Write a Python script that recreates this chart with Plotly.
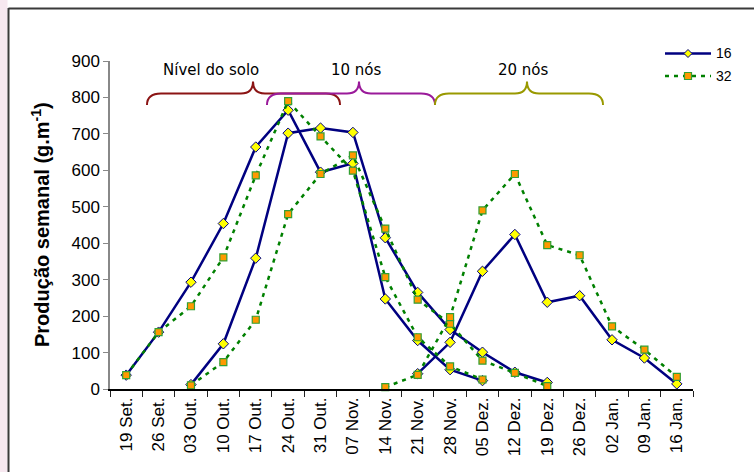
import plotly.graph_objects as go

categories = ["19 Set.", "26 Set.", "03 Out.", "10 Out.", "17 Out.", "24 Out.", "31 Out.",
              "07 Nov.", "14 Nov.", "21 Nov.", "28 Nov.", "05 Dez.", "12 Dez.", "19 Dez.",
              "26 Dez.", "02 Jan.", "09 Jan.", "16 Jan."]
N = None
# density 16 (solid blue)
d16_solo = [38, 156, 293, 454, 664, 765, 595, 619, 247, 133, 53, 23, N, N, N, N, N, N]
d16_10nos = [N, N, 12, 124, 359, 702, 716, 704, 415, 265, 163, 101, 46, 18, N, N, N, N]
d16_20nos = [N, N, N, N, N, N, N, N, N, 42, 128, 323, 424, 238, 256, 135, 85, 14]
# density 32 (dotted green)
d32_solo = [38, 156, 227, 361, 586, 790, 693, 599, 307, 142, 62, 26, N, N, N, N, N, N]
d32_10nos = [N, N, 10, 74, 190, 480, 590, 641, 440, 245, 179, 78, 44, 8, N, N, N, N]
d32_20nos = [N, N, N, N, N, N, N, N, 5, 39, 197, 490, 590, 395, 367, 172, 108, 33]

y_ticks = [0, 100, 200, 300, 400, 500, 600, 700, 800, 900]
legend_labels = ["16", "32"]
brace_labels = ["Nível do solo", "10 nós", "20 nós"]

BLUE = "#000080"
GREEN = "#008000"

# layout geometry (pixels)
W, H = 754, 472
ML, MR, MT, MB = 110, 61, 61, 83
PW, PH = W - ML - MR, H - MT - MB


def px(x):
    return (x - ML) / PW


def py(y):
    return (H - MB - y) / PH


fig = go.Figure()

for ys in (d16_solo, d16_10nos, d16_20nos):
    fig.add_trace(go.Scatter(
        x=categories, y=ys, mode="lines+markers", showlegend=False,
        line=dict(color=BLUE, width=2.5),
        marker=dict(symbol="diamond", size=8, color="#FFFF00",
                    line=dict(color=BLUE, width=1)),
        cliponaxis=False))

for ys in (d32_solo, d32_10nos, d32_20nos):
    fig.add_trace(go.Scatter(
        x=categories, y=ys, mode="lines+markers", showlegend=False,
        line=dict(color=GREEN, width=2.5, dash="4px,5px"),
        marker=dict(symbol="square", size=7, color="#FF9900",
                    line=dict(color="#33A033", width=1.2)),
        cliponaxis=False))

shapes = []
# outer pink strip and frame
shapes.append(dict(type="rect", xref="paper", yref="paper", x0=px(0), x1=px(7.5),
                   y0=py(H + 5), y1=py(-5), fillcolor="#F7E8F0", line=dict(width=0), layer="below"))
shapes.append(dict(type="line", xref="paper", yref="paper", x0=px(8.5), x1=px(8.5),
                   y0=py(8), y1=py(H + 5), line=dict(color="#3a3a3a", width=2)))
shapes.append(dict(type="line", xref="paper", yref="paper", x0=px(8.5), x1=px(W + 5),
                   y0=py(8.5), y1=py(8.5), line=dict(color="#3a3a3a", width=2)))


def brace(x0, x1, xc, color, yb=105, ym=93.5, yt=81.5, r=14, rc=12):
    pts = [
        f"M {px(x0)},{py(yb)}",
        f"Q {px(x0)},{py(ym)} {px(x0 + r)},{py(ym)}",
        f"L {px(xc - rc)},{py(ym)}",
        f"Q {px(xc)},{py(ym)} {px(xc)},{py(yt)}",
        f"Q {px(xc)},{py(ym)} {px(xc + rc)},{py(ym)}",
        f"L {px(x1 - r)},{py(ym)}",
        f"Q {px(x1)},{py(ym)} {px(x1)},{py(yb)}",
    ]
    return dict(type="path", xref="paper", yref="paper", path=" ".join(pts),
                line=dict(color=color, width=2))


shapes.append(brace(147, 340, 253, "#8B1414"))
shapes.append(brace(267, 435, 359, "#9A1A9A"))
shapes.append(brace(435, 603, 527, "#999900"))

# manual legend
shapes.append(dict(type="line", xref="paper", yref="paper", x0=px(665), x1=px(711),
                   y0=py(53.5), y1=py(53.5), line=dict(color=BLUE, width=2.5)))
shapes.append(dict(type="path", xref="paper", yref="paper",
                   path=f"M {px(684)},{py(53.5)} L {px(688)},{py(49.5)} L {px(692)},{py(53.5)} L {px(688)},{py(57.5)} Z",
                   fillcolor="#FFFF00", line=dict(color=BLUE, width=1)))
shapes.append(dict(type="line", xref="paper", yref="paper", x0=px(665), x1=px(711),
                   y0=py(76), y1=py(76), line=dict(color=GREEN, width=2.5, dash="4px,5px")))
shapes.append(dict(type="rect", xref="paper", yref="paper", x0=px(684.5), x1=px(691.5),
                   y0=py(79.5), y1=py(72.5), fillcolor="#FF9900", line=dict(color="#33A033", width=1.2)))

annotations = []
for lab, yy in zip(legend_labels, (53.5, 76)):
    annotations.append(dict(xref="paper", yref="paper", x=px(714), y=py(yy), text=lab,
                            showarrow=False, xanchor="left", yanchor="middle",
                            font=dict(family="Liberation Sans, Arial", size=14, color="#000")))
for lab, xx in zip(brace_labels, (211, 356, 523)):
    annotations.append(dict(xref="paper", yref="paper", x=px(xx), y=py(70), text=lab,
                            showarrow=False, xanchor="center", yanchor="middle",
                            font=dict(family="DejaVu Sans", size=15, color="#000")))
annotations.append(dict(xref="paper", yref="paper", x=px(40), y=py(225),
                        text="<b>Produção semanal (g.m<sup>-1</sup>)</b>", textangle=-90,
                        showarrow=False, xanchor="center", yanchor="middle",
                        font=dict(family="Liberation Sans, Arial", size=20, color="#000")))

fig.update_layout(
    width=W, height=H,
    margin=dict(l=ML, r=MR, t=MT, b=MB, pad=0),
    paper_bgcolor="white", plot_bgcolor="white",
    showlegend=False,
    shapes=shapes, annotations=annotations,
    font=dict(family="Liberation Sans, Arial", size=17, color="#000"),
    xaxis=dict(type="category", categoryorder="array", categoryarray=categories,
               range=[-0.5, len(categories) - 0.5], tickson="boundaries",
               ticks="outside", ticklen=6, tickcolor="#222", tickwidth=1,
               showline=True, linecolor="#000", linewidth=1.5, showgrid=False,
               tickangle=-90, tickfont=dict(size=17), zeroline=False),
    yaxis=dict(range=[0, 900], tickvals=y_ticks, ticks="outside", ticklen=5,
               tickcolor="#888", tickwidth=1, showline=True, linecolor="#888",
               linewidth=1.5, showgrid=False, zeroline=False, tickfont=dict(size=17)),
)

fig.write_html("out.html")
